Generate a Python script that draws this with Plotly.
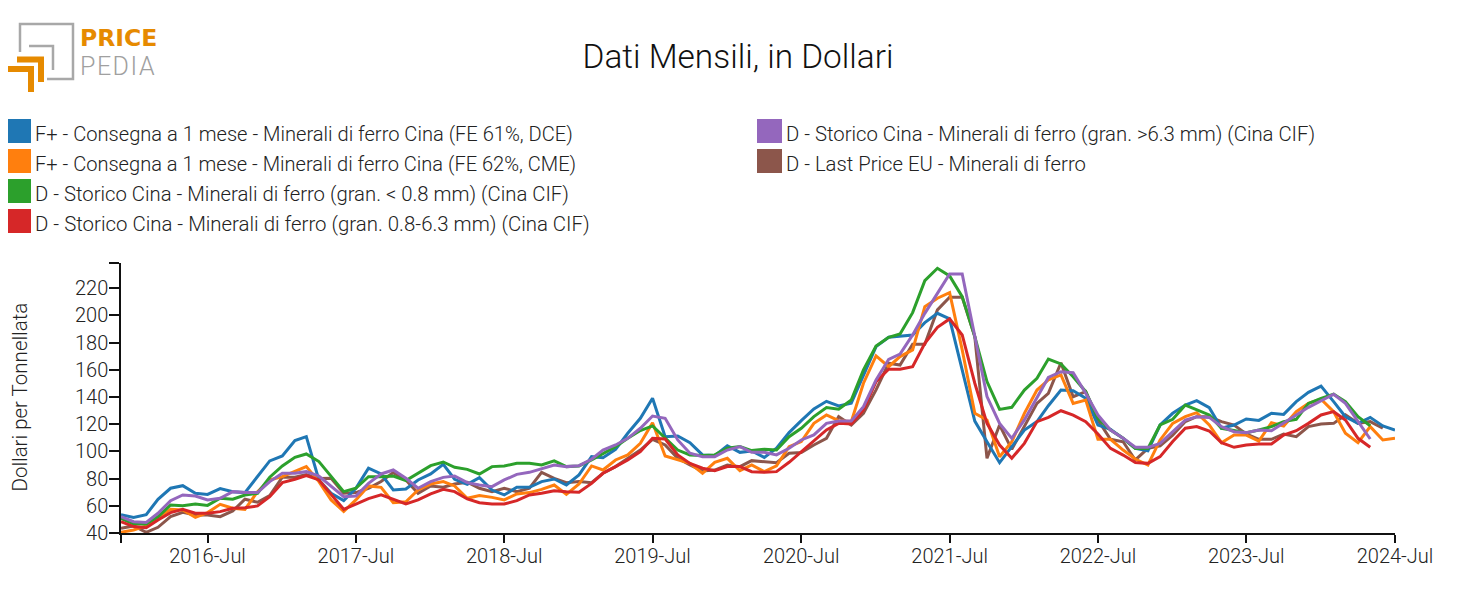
import pandas as pd
import plotly.graph_objects as go

W, H = 1477, 615
# plot area in page pixels
L, R, T, B = 121, 1395, 263, 533
FONT = "Roboto"
TEXT_COL = "#222222"

months = pd.date_range("2015-12-01", "2024-07-01", freq="MS")

f_dce = [53.5, 51.5, 53.5, 64.8, 72.9, 74.8, 69.2, 68.4, 72.6, 70.4, 69.7, 81.4, 93, 96.6, 107.9, 110.8, 79, 69.2, 63.8, 72.9, 87.6, 83.4, 71.6, 72.4, 79,
         83.4, 90.5, 79.5, 75.8, 80.7, 71.6, 68, 73.6, 73.6, 77.8, 79.7, 75.3, 82.7, 96.1, 95.4, 101.5, 113.3, 124.3, 139, 110.8, 111.3, 106.4,
         97.4, 96.9, 104.2, 99.3, 100.3, 95.6, 102.3, 113.8, 122.6, 131.2, 136.8, 133.4, 135.4, 156.2, 177, 183.9, 184.9, 185.6, 194.7, 201.5, 197.4, 159.9,
         122.3, 107.1, 91.7, 103.5, 115.7, 121.9, 133.6, 145.1, 144.6, 139, 119.4, 116.2, 109.6, 102.2, 100.5, 119.4,
         128, 134.1, 137.3, 132.1, 117, 119.4, 123.8, 122.8, 128, 127.2, 136.6, 143.4, 148, 136.6, 125.5, 120.6, 125, 118.7, 115.7]
f_cme = [40.5, 42.2, 45.2, 50.8, 57.4, 56.9, 51.5, 55, 61.1, 58.2, 57.4, 70.4, 79, 81.4, 85.1, 88.8, 77.8, 64.3, 55.9, 64.3, 74.6, 73.6, 62.3, 63, 71.6,
         76, 77.8, 74.6, 65.5, 67.5, 66.2, 64.3, 68.7, 69.7, 72.1, 75.3, 68.4, 76, 89.3, 86.3, 93.7, 97.4, 105.9, 121.1, 96.6, 93.7, 91.2,
         83.9, 92, 94.9, 85.8, 90, 85.1, 89.3, 103.5, 107.2, 120.6, 126.8, 122.6, 121.9, 150.1, 170.2, 162.3, 169.7, 174.6, 206.4, 212.6, 216.7, 174.6,
         128, 123.1, 96.1, 107.1, 128, 145.1, 152.5, 156.2, 135.3, 137.8, 108.9, 108.9, 101, 94.4, 90, 108.4,
         120.6, 125.5, 128.5, 119.4, 106.4, 112, 112, 107.6, 121.1, 118.7, 129.2, 135.3, 138.3, 129.2, 113.3, 106.4, 118.2, 108.4, 109.6]
d_fine = [50.8, 46.6, 46.6, 52, 60.6, 60.1, 61.3, 60.3, 65.5, 64.8, 67.9, 69.2, 81, 89.3, 95.6, 98.1, 92.5, 81.4, 70.4, 72.9, 81.4, 81.4, 81.9, 78.5, 83.9,
          89.5, 92.2, 88.3, 86.8, 83.4, 88.8, 89.3, 91.2, 91.2, 90, 93, 88.8, 89.3, 93.7, 98.6, 103.5, 109.6, 115.3, 118.7, 109.6, 101, 97.4,
          96.9, 97.4, 102.3, 103.5, 100.6, 101.5, 101, 110.8, 117, 125.6, 132.2, 131, 137.8, 159.9, 177.5, 183.9, 186.3, 202, 225.5, 234.6, 229, 213.8,
          184.4, 151.3, 130.9, 132.4, 145.1, 153.7, 167.9, 164.3, 154.9, 143.9, 124.3, 115.7, 109.6, 102.2, 102.2, 119.4,
          123.6, 134.1, 130.4, 126.8, 117, 115.2, 113.8, 115.7, 118.2, 121.9, 123.6, 135.3, 139, 142, 136.6, 125.5, 118.9]
d_mid = [48.3, 44.7, 43.9, 49.6, 55, 57.4, 54.5, 54.5, 55.7, 58.2, 58.6, 59.9, 66.7, 77, 79.5, 82.2, 79, 68, 57.4, 61.3, 65.3, 68, 64.8, 61.3, 64.3,
         68.7, 72.1, 70.4, 65, 62.3, 61.3, 61.3, 63.8, 68, 69.2, 71.1, 70.4, 69.9, 76.5, 83.9, 88.8, 93.7, 99.8, 109.6, 109.1, 97.4, 91.2,
         87.6, 85.8, 88.8, 88.8, 85.1, 84.6, 85.1, 92, 99.8, 108.4, 115.8, 120.6, 120.2, 130.5, 151.3, 160.4, 160.4, 162.3, 179.5, 191.2, 197.4, 185.6,
         150.1, 120.6, 104.7, 94.9, 105.9, 121.9, 125, 129.9, 126.7, 121.9, 112.8, 102.2, 97.3, 91.9, 91.2, 96.1,
         107.2, 117, 118.2, 115, 106.4, 103, 104.7, 105.4, 105.4, 112, 115.2, 120.6, 126.8, 129.2, 123.1, 109.6, 103]
d_coarse = [52, 48.3, 47.8, 54.5, 63.8, 68, 67.2, 64.3, 65.5, 70.4, 69.7, 69.7, 77.8, 83.9, 83.9, 85.1, 81.9, 74.1, 66.7, 67.2, 76.5, 83.4, 86.3, 80.2, 72.9,
            77.8, 80.9, 81.9, 77, 75.3, 74.1, 79, 83.1, 84.6, 87.1, 90, 88.8, 89.5, 94.2, 101, 104.7, 109.6, 117, 126, 124.3, 108.4, 98.6,
            96.1, 96.1, 101, 103.5, 99.3, 99.3, 97.4, 102.3, 108.4, 112.1, 120.6, 122.4, 122.4, 132.9, 152.5, 167.7, 171.6, 185.6, 201.5, 216.2, 230.5, 230.5,
            184.4, 140.3, 120.6, 109.6, 123.1, 139, 154.4, 158.6, 157.9, 142.7, 126.7, 115.7, 109.6, 103, 103, 105.9,
            114.5, 123, 125.5, 125, 118.2, 114.5, 113.8, 115.7, 115.2, 120.6, 126.8, 132.4, 137.3, 142, 135.3, 121.9, 109.1]
d_eu = [43.4, 45.2, 40.5, 44.2, 52, 55.2, 53.2, 53.2, 52, 56.2, 64.8, 62.6, 67.5, 81, 81, 82.9, 80, 80.2, 69.2, 69.7, 72.9, 77.8, 84.4, 79, 69.2,
        74.6, 73.6, 76, 77.3, 72.9, 70.4, 72.9, 70.4, 72.9, 84.6, 80.2, 77, 77.8, 77, 83.9, 88.8, 94.9, 101, 108.9, 104.7, 94.9, 90,
        85.6, 86.3, 90, 88.8, 93.2, 92.5, 91.7, 98.6, 99.1, 104.7, 109.6, 125.6, 119.4, 128, 145.2, 164.8, 163.5, 178.7, 178.7, 204, 213.3, 213.3,
        184.4, 94.9, 119.4, 101.5, 118.2, 135.3, 142.7, 165.2, 140.2, 143.9, 123.1, 108.9, 107.1, 93.7, 102.2, 104,
        112, 121.9, 125.5, 125.5, 121.9, 119.4, 112.8, 108.9, 108.9, 112.8, 110.8, 118.2, 120.1, 120.6, 126.8, 120.6, 121.9, 117]

names = ["F+ - Consegna a 1 mese - Minerali di ferro Cina (FE 61%, DCE)",
         "F+ - Consegna a 1 mese - Minerali di ferro Cina (FE 62%, CME)",
         "D - Storico Cina - Minerali di ferro (gran. < 0.8 mm) (Cina CIF)",
         "D - Storico Cina - Minerali di ferro (gran. 0.8-6.3 mm) (Cina CIF)",
         "D - Storico Cina - Minerali di ferro (gran. >6.3 mm) (Cina CIF)",
         "D - Last Price EU - Minerali di ferro"]
colors = ["#1f77b4", "#ff7f0e", "#2ca02c", "#d62728", "#9467bd", "#8c564b"]
series = [f_dce, f_cme, d_fine, d_mid, d_coarse, d_eu]
draw_order = [5, 0, 1, 2, 3, 4]

y_ticks = [40, 60, 80, 100, 120, 140, 160, 180, 200, 220, 238.5]
y_labels = ["40", "60", "80", "100", "120", "140", "160", "180", "200", "220", ""]
x_ticks = ["2015-12-01", "2016-07-01", "2017-07-01", "2018-07-01", "2019-07-01",
           "2020-07-01", "2021-07-01", "2022-07-01", "2023-07-01", "2024-07-01"]
x_labels = ["", "2016-Jul", "2017-Jul", "2018-Jul", "2019-Jul", "2020-Jul", "2021-Jul", "2022-Jul", "2023-Jul", "2024-Jul"]


# page pixels to paper coordinates, the legend and logo are placed by hand
def px(x):
    return (x - L) / (R - L)


def py(y):
    return (B - y) / (B - T)


def poly(points):
    return "M " + " L ".join(f"{px(x):.5f},{py(y):.5f}" for x, y in points)


fig = go.Figure()
for i in draw_order:
    fig.add_trace(go.Scatter(x=months[:len(series[i])], y=series[i], mode="lines", name=names[i],
                             line=dict(color=colors[i], width=3), showlegend=False))

shapes = []
annotations = []

# legend
legend_pos = [(6, 119), (6, 149), (6, 179), (6, 209), (757, 119), (757, 149)]
legend_sizes = [20.1, 20.07, 20.3, 20.4, 20.3, 20.25]
for (x, y), name, col, size in zip(legend_pos, names, colors, legend_sizes):
    shapes.append(dict(type="rect", xref="paper", yref="paper", x0=px(x), x1=px(x + 25), y0=py(y), y1=py(y + 24),
                       fillcolor=col, line=dict(width=0)))
    annotations.append(dict(text=name.replace("<", "&lt;").replace(">", "&gt;"), xref="paper", yref="paper", x=px(x + 27), y=py(y + 15),
                            xanchor="left", yanchor="middle", showarrow=False,
                            font=dict(family=FONT, size=size, weight=300, color=TEXT_COL)))

# y axis title, an annotation so it does not push the margin
annotations.append(dict(text="Dollari per Tonnellata", xref="paper", yref="paper", x=px(19.5), y=py(397), textangle=-90,
                        xanchor="center", yanchor="middle", showarrow=False,
                        font=dict(family=FONT, size=20.5, weight=300, color=TEXT_COL)))

# logo
for pts in ([(20, 52), (20, 24), (73, 24), (73, 79), (47, 79)], [(29, 46), (53, 46), (53, 70)]):
    shapes.append(dict(type="path", xref="paper", yref="paper", path=poly(pts), line=dict(color="#a8a8a8", width=2.5)))
for pts in ([(17, 59.5), (41, 59.5), (41, 82)], [(8, 69), (31, 69), (31, 92)]):
    shapes.append(dict(type="path", xref="paper", yref="paper", path=poly(pts), line=dict(color="#e68a00", width=6)))
annotations.append(dict(text="PRICE", xref="paper", yref="paper", x=px(78), y=py(38),
                        xanchor="left", yanchor="middle", showarrow=False,
                        font=dict(family="DejaVu Sans", size=23.5, weight=700, color="#e68a00")))
annotations.append(dict(text='<span style="letter-spacing:1.5px">PEDIA</span>', xref="paper", yref="paper", x=px(78), y=py(66.5),
                        xanchor="left", yanchor="middle", showarrow=False,
                        font=dict(family=FONT, size=25, weight=300, color="#a0a0a0")))

fig.update_layout(
    width=W - 16, height=H - 16,
    margin=dict(l=L - 8, r=W - 8 - R, t=T - 8, b=H - 8 - B),
    paper_bgcolor="white", plot_bgcolor="white",
    title=dict(text="Dati Mensili, in Dollari", x=(738 - 8) / (W - 16), xanchor="center", y=1 - (56 - 8) / (H - 16), yanchor="middle",
               font=dict(family=FONT, size=33.4, weight=300, color="#111111")),
    font=dict(family=FONT, size=20, weight=300, color=TEXT_COL),
    shapes=shapes, annotations=annotations,
)
fig.update_xaxes(range=["2015-12-01", "2024-07-01"], tickmode="array", tickvals=x_ticks, ticktext=x_labels,
                 showgrid=False, zeroline=False, showline=True, linecolor="#111111", linewidth=1.5,
                 ticks="outside", ticklen=8, tickwidth=1.5, tickcolor="#111111", ticklabelstandoff=-4)
fig.update_yaxes(range=[40, 238.5], tickmode="array", tickvals=y_ticks, ticktext=y_labels,
                 showgrid=False, zeroline=False, showline=True, linecolor="#111111", linewidth=1.5,
                 ticks="outside", ticklen=10, tickwidth=1.5, tickcolor="#111111", ticklabelstandoff=-3)

fig.write_html("out.html")
